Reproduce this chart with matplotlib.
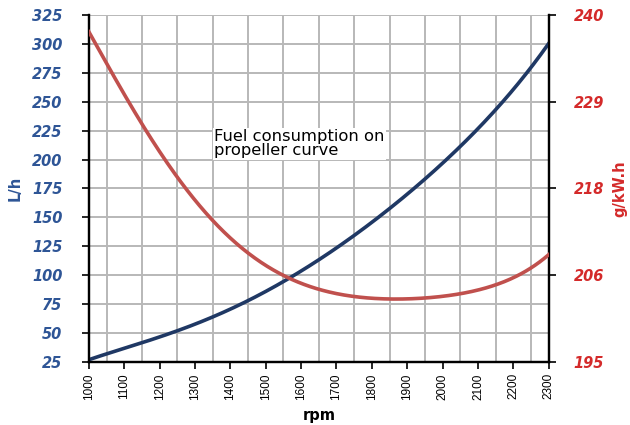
import matplotlib.pyplot as plt
import numpy as np

# data
rpm = [1000, 1100, 1200, 1300, 1400, 1500, 1600, 1700, 1800, 1900, 2000, 2100, 2200, 2300]
fuel_lh = [27, 37, 47, 57, 71, 87, 103, 123, 146, 171, 197, 225, 262, 300]
sfc = [237.7, 230.0, 222.2, 215.8, 211.1, 207.4, 205.5, 204.0, 203.2, 203.0, 203.4, 204.6, 205.9, 208.9]

left_ticks = list(range(25, 326, 25))
right_ticks = [195, 206.25, 217.5, 228.75, 240]
right_labels = ["195", "206", "218", "229", "240"]

blue = "#1f3864"
red = "#c0504d"
blue_txt = "#2e5596"
red_txt = "#d42a2a"

fig = plt.figure(figsize=(6.3, 4.25), dpi=100)
ax = fig.add_axes([0.141, 0.148, 0.730, 0.817])
ax2 = ax.twinx()

def smooth(x, y):
    xs = np.linspace(x[0], x[-1], 300)
    c = np.polyfit(x, y, 5)
    return xs, np.polyval(c, xs)

xs, ys = smooth(np.array(rpm, float), np.array(fuel_lh, float))
ax.plot(xs, ys, color=blue, lw=2.6, zorder=3)
xs, ys = smooth(np.array(rpm, float), np.array(sfc, float))
ax2.plot(xs, ys, color=red, lw=2.6, zorder=3)

ax.set_xlim(1000, 2300)
ax.set_ylim(25, 325)
ax2.set_ylim(195, 240)

# ticks on the hundreds, vertical grid lines on the fifties in between
ax.set_xticks(range(1000, 2301, 100))
ax.set_xticks(range(1050, 2300, 100), minor=True)
ax.set_yticks(left_ticks)
ax.grid(True, axis="y", which="major", color="#b8b8b8", lw=1.4)
ax.grid(True, axis="x", which="minor", color="#b8b8b8", lw=1.4)
ax.set_axisbelow(True)
ax.tick_params(axis="x", which="minor", length=0)
ax.tick_params(axis="x", which="major", rotation=90, length=5, width=1.2, direction="out", pad=3)
for lab in ax.get_xticklabels():
    lab.set_family("Liberation Sans")
    lab.set_fontsize(8.5)
ax.tick_params(axis="y", length=5, width=1.2, direction="out", pad=14)
for lab in ax.get_yticklabels():
    lab.set_fontweight("bold")
    lab.set_fontstyle("italic")
    lab.set_color(blue_txt)
    lab.set_fontsize(10.5)

ax2.set_yticks(right_ticks)
ax2.set_yticklabels(right_labels, fontsize=10.5, fontweight="bold", fontstyle="italic", color=red_txt)
ax2.tick_params(axis="y", length=5, width=1.2, direction="out", pad=13)

for a in (ax, ax2):
    a.spines["top"].set_visible(False)
    a.spines["left"].set_linewidth(1.6)
    a.spines["right"].set_linewidth(1.6)
    a.spines["bottom"].set_linewidth(1.6)

ax.set_xlabel("rpm", fontsize=10.5, fontweight="bold", labelpad=6)
ax.set_ylabel("L/h", fontsize=10.5, fontweight="bold", color=blue_txt, labelpad=7)
ax2.set_ylabel("g/kW.h", fontsize=10.5, fontweight="bold", color=red_txt, labelpad=6)

ax.text(1355, 201, "Fuel consumption on\npropeller curve", fontsize=11.8, color="black",
        va="bottom", ha="left", linespacing=0.95, zorder=5,
        bbox=dict(facecolor="white", edgecolor="none", pad=1.0))

fig.savefig("out.png", dpi=100)
